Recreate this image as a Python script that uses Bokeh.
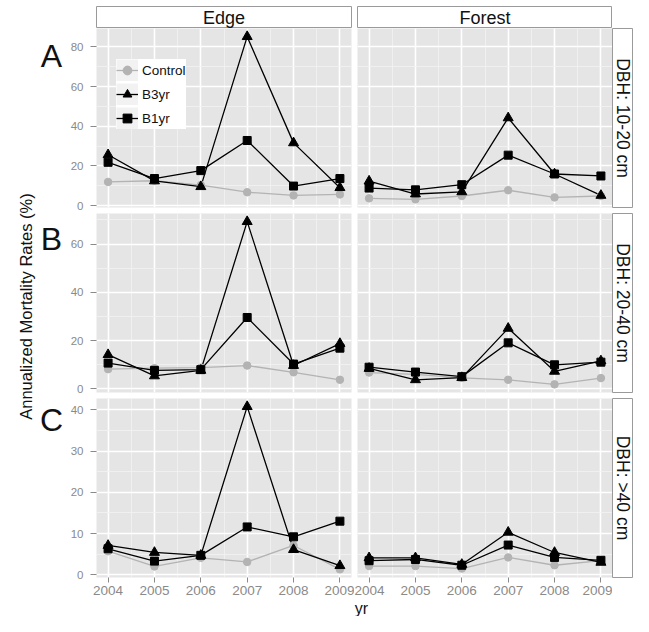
import math
from bokeh.plotting import figure
from bokeh.models import (ColumnDataSource, FixedTicker, Label, Legend, LegendItem,
                          Range1d, Spacer, NumeralTickFormatter)
from bokeh.layouts import row, column
from bokeh.core.properties import value
from bokeh.embed import file_html
from bokeh.resources import INLINE

# ---------------- data ----------------
years = [2004, 2005, 2006, 2007, 2008, 2009]
habitats = ["Edge", "Forest"]
size_classes = ["DBH: 10-20 cm", "DBH: 20-40 cm", "DBH: >40 cm"]
panel_letters = ["A", "B", "C"]
treatments = ["Control", "B3yr", "B1yr"]

# DBH 10-20 cm
edge_1020_control = [11.9, 12.5, 10.3, 6.7, 5.1, 5.6]
edge_1020_b3yr = [25.6, 12.4, 9.5, 85.2, 31.6, 9.0]
edge_1020_b1yr = [21.8, 13.6, 17.6, 32.8, 9.8, 13.6]
forest_1020_control = [3.6, 3.1, 4.8, 7.7, 4.1, 4.8]
forest_1020_b3yr = [12.3, 5.8, 6.9, 44.2, 15.9, 5.1]
forest_1020_b1yr = [8.8, 7.9, 10.5, 25.4, 15.9, 14.9]
# DBH 20-40 cm
edge_2040_control = [8.2, 8.6, 8.8, 9.7, 6.9, 3.8]
edge_2040_b3yr = [14.2, 5.4, 7.7, 69.3, 9.7, 18.8]
edge_2040_b1yr = [10.7, 7.7, 8.0, 29.6, 10.3, 16.9]
forest_2040_control = [6.8, 6.0, 4.6, 3.8, 1.9, 4.5]
forest_2040_b3yr = [8.5, 3.8, 4.7, 25.1, 7.3, 11.6]
forest_2040_b1yr = [9.0, 7.0, 5.1, 19.1, 10.0, 11.1]
# DBH > 40 cm
edge_40_control = [5.7, 2.0, 4.1, 3.1, 7.1, 1.3]
edge_40_b3yr = [7.1, 5.4, 4.7, 40.8, 6.1, 2.2]
edge_40_b1yr = [6.3, 3.3, 4.7, 11.6, 9.2, 13.0]
forest_40_control = [2.1, 2.1, 1.5, 4.2, 2.3, 3.4]
forest_40_b3yr = [4.1, 4.1, 2.5, 10.3, 5.4, 3.0]
forest_40_b1yr = [3.4, 3.7, 2.3, 7.2, 4.2, 3.5]

row_ticks = [[0, 20, 40, 60, 80], [0, 20, 40, 60], [0, 10, 20, 30, 40]]
row_minor = [[10, 30, 50, 70], [10, 30, 50, 70], [5, 15, 25, 35]]

panels = [
    [(edge_1020_control, edge_1020_b3yr, edge_1020_b1yr),
     (forest_1020_control, forest_1020_b3yr, forest_1020_b1yr)],
    [(edge_2040_control, edge_2040_b3yr, edge_2040_b1yr),
     (forest_2040_control, forest_2040_b3yr, forest_2040_b1yr)],
    [(edge_40_control, edge_40_b3yr, edge_40_b1yr),
     (forest_40_control, forest_40_b3yr, forest_40_b1yr)],
]

# ---------------- style / geometry ----------------
FONT = "Liberation Sans"
TICK_COL = "#8a8a8a"
STRIP_LINE = "#9a9a9a"
INK = "#111111"
STY = {
    "Control": dict(marker="circle", size=7.5, color="#B3B3B3"),
    "B3yr": dict(marker="triangle", size=10, color="black"),
    "B1yr": dict(marker="square", size=8, color="black"),
}
LEFTW = 66          # y-title + panel letters column
LEFT = 30           # edge figure left border (tick labels)
FW = 255            # panel frame width
FH = 179            # panel frame height
GAP = 6             # vertical gap between panel rows
HALFGAP = 3         # half of horizontal gap between columns
XAX = 24            # bottom border of last row (ticks, labels)
XTITLE_H = 15       # strip holding the x-axis title
STRIPW = 21
TOP = 6
STRIPH = 22
TOTAL_H = TOP + STRIPH + (FH + GAP) * 2 + FH + XAX + XTITLE_H
RIGHT_W = LEFT + FW + 2 * HALFGAP + FW + STRIPW

# legend box geometry (screen px inside the first panel)
LEG_PAD, LEG_GLYPH, LEG_SPACING = 8, 22, 2
LEG_H = 2 * LEG_PAD + 3 * LEG_GLYPH + 2 * LEG_SPACING
LEG_LEFT, LEG_TOP = 20, 15

x0 = years[0] - 0.05 * (years[-1] - years[0])
x1 = years[-1] + 0.05 * (years[-1] - years[0])
x_minor = [y + 0.5 for y in years[:-1]]

yranges = []
for r in range(3):
    vals = [v for c in range(2) for s in panels[r][c] for v in s]
    lo, hi = min(vals), max(vals)
    pad = 0.05 * (hi - lo)
    yranges.append((lo - pad, hi + pad))


def blank(width, height, left=0, right=0, top=0, bottom=0):
    f = figure(width=width, height=height, x_range=Range1d(0, 1), y_range=Range1d(0, 1),
               x_axis_location=None, y_axis_location=None, title=None,
               min_border_left=left, min_border_right=right, min_border_top=top,
               min_border_bottom=bottom, output_backend="svg", toolbar_location=None)
    f.grid.visible = False
    f.outline_line_color = None
    f.background_fill_color = "white"
    f.border_fill_color = "white"
    return f


def make_panel(r, c):
    edge = c == 0
    bottom = r == 2
    bot_b = XAX if bottom else GAP
    left_b = LEFT if edge else HALFGAP
    right_b = HALFGAP if edge else 0
    p = figure(width=left_b + FW + right_b, height=FH + bot_b,
               x_range=Range1d(x0, x1), y_range=Range1d(*yranges[r]),
               x_axis_location="below" if bottom else None,
               y_axis_location="left" if edge else None, title=None,
               min_border_left=left_b, min_border_right=right_b,
               min_border_top=0, min_border_bottom=bot_b,
               output_backend="svg", toolbar_location=None)
    p.background_fill_color = "#E5E5E5"
    p.border_fill_color = "white"
    p.outline_line_color = None
    p.xgrid.ticker = FixedTicker(ticks=years, minor_ticks=x_minor)
    p.ygrid.ticker = FixedTicker(ticks=row_ticks[r], minor_ticks=row_minor[r])
    p.grid.grid_line_color = "white"
    p.grid.grid_line_width = 1.6
    p.grid.minor_grid_line_color = "#F3F3F3"
    p.grid.minor_grid_line_width = 0.8

    if bottom:
        ax = p.xaxis[0]
        ax.ticker = FixedTicker(ticks=years)
        ax.formatter = NumeralTickFormatter(format="0")
        ax.axis_line_color = None
        ax.major_tick_line_color = TICK_COL
        ax.major_tick_out = 5
        ax.major_tick_in = 0
        ax.minor_tick_line_color = None
        ax.major_label_standoff = 3
        ax.major_label_text_font = FONT
        ax.major_label_text_font_size = "13.5px"
        ax.major_label_text_color = TICK_COL
    if edge:
        ay = p.yaxis[0]
        ay.ticker = FixedTicker(ticks=row_ticks[r])
        ay.axis_line_color = None
        ay.major_tick_line_color = TICK_COL
        ay.major_tick_out = 6
        ay.major_tick_in = 0
        ay.minor_tick_line_color = None
        ay.major_label_standoff = 7
        ay.major_label_text_font = FONT
        ay.major_label_text_font_size = "11.5px"
        ay.major_label_text_color = TICK_COL

    ctl, b3, b1 = panels[r][c]
    src = ColumnDataSource(dict(yr=years, Control=ctl, B3yr=b3, B1yr=b1))
    lines, pts = {}, {}
    for t in treatments:
        lines[t] = p.line("yr", t, source=src, line_color=STY[t]["color"], line_width=1.3)
    for t in treatments:
        s = STY[t]
        pts[t] = p.scatter("yr", t, source=src, marker=s["marker"], size=s["size"],
                           fill_color=s["color"], line_color=s["color"])

    if edge and r == 0:
        items = []
        for t in treatments:
            bg = p.line("yr", t, source=src, line_width=LEG_GLYPH, line_color="#F2F2F2",
                        line_cap="butt", visible=False)
            items.append(LegendItem(label=value(t), renderers=[bg, lines[t], pts[t]]))
        leg = Legend(items=items, location=(LEG_LEFT, FH - LEG_TOP - LEG_H),
                     padding=LEG_PAD, spacing=LEG_SPACING,
                     glyph_width=LEG_GLYPH, glyph_height=LEG_GLYPH, label_standoff=4,
                     label_height=LEG_GLYPH,
                     label_text_font=FONT, label_text_font_size="13.5px",
                     label_text_color=INK,
                     background_fill_color="white", background_fill_alpha=1.0,
                     border_line_color=None)
        p.add_layout(leg)
    return p


# top strips
top_figs = []
for c in range(2):
    lb = LEFT if c == 0 else HALFGAP
    rb = HALFGAP if c == 0 else 0
    s = blank(lb + FW + rb, TOP + STRIPH, left=lb, right=rb, top=TOP)
    s.outline_line_color = STRIP_LINE
    s.outline_line_width = 1
    s.add_layout(Label(x=0.5, y=0.5, text=habitats[c], text_align="center",
                       text_baseline="middle", text_font=FONT, text_font_size="18px",
                       text_color=INK))
    top_figs.append(s)
top_row = row(top_figs[0], top_figs[1], Spacer(width=STRIPW, height=TOP + STRIPH))

rows = []
for r in range(3):
    bot_b = XAX if r == 2 else GAP
    rs = blank(STRIPW, FH + bot_b, bottom=bot_b)
    rs.outline_line_color = STRIP_LINE
    rs.outline_line_width = 1
    rs.add_layout(Label(x=0.5, y=0.5, text=size_classes[r], text_align="center",
                        text_baseline="middle", angle=-math.pi / 2, text_font=FONT,
                        text_font_size="17.5px", text_color=INK))
    rows.append(row(make_panel(r, 0), make_panel(r, 1), rs))

# x-axis title strip ("yr"), centred under the two panel columns
xtitle = blank(RIGHT_W, XTITLE_H)
xtitle.add_layout(Label(x=LEFT + FW + HALFGAP + 7, y=0, x_units="screen", y_units="screen",
                        text="yr", text_align="center", text_baseline="bottom",
                        text_font=FONT, text_font_size="16px", text_color=INK))

# left column: y-axis title and panel letters
left_fig = blank(LEFTW, TOTAL_H)
left_fig.add_layout(Label(x=25, y=TOTAL_H - 306, x_units="screen", y_units="screen",
                          text="Annualized Mortality Rates (%)", angle=math.pi / 2,
                          text_align="center", text_baseline="alphabetic", text_font=FONT,
                          text_font_size="16.5px", text_color=INK))
row_tops = [TOP + STRIPH + r * (FH + GAP) for r in range(3)]
letter_drop = [27, 25, 21]
for r in range(3):
    left_fig.add_layout(Label(x=51, y=TOTAL_H - (row_tops[r] + letter_drop[r]),
                              x_units="screen", y_units="screen", text=panel_letters[r],
                              text_align="center", text_baseline="alphabetic",
                              text_font=FONT, text_font_size="32px", text_color=INK))

layout = row(left_fig, column(top_row, rows[0], rows[1], rows[2], xtitle))

open("out.html", "w").write(file_html(layout, INLINE, title="Mortality rates"))
